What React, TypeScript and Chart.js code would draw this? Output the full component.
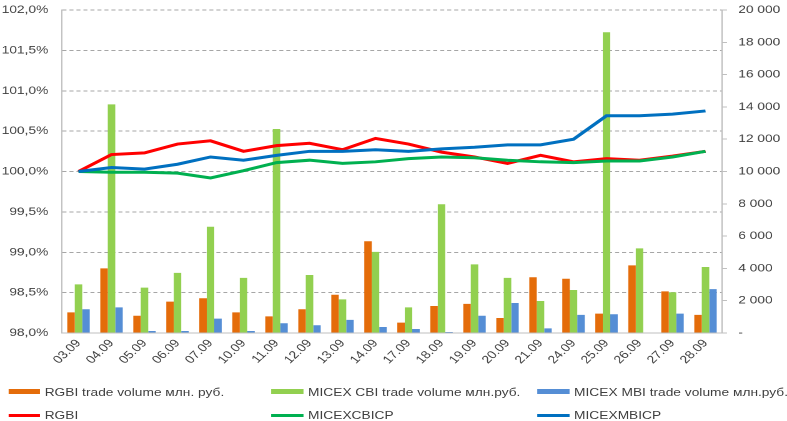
import { useEffect, useRef } from 'react';
import { Chart, registerables } from 'chart.js';

Chart.register(...registerables);

const categories = ['03.09', '04.09', '05.09', '06.09', '07.09', '10.09', '11.09', '12.09', '13.09', '14.09', '17.09', '18.09', '19.09', '20.09', '21.09', '24.09', '25.09', '26.09', '27.09', '28.09'];

const rgbiVolume = [1280, 4000, 1070, 1940, 2150, 1280, 1030, 1470, 2370, 5680, 640, 1670, 1800, 930, 3450, 3360, 1200, 4190, 2580, 1120];
const cbiVolume = [3010, 14160, 2810, 3720, 6580, 3410, 12630, 3590, 2080, 5020, 1590, 7970, 4250, 3410, 1980, 2660, 18620, 5240, 2520, 4090];
const mbiVolume = [1470, 1590, 120, 120, 890, 120, 600, 480, 810, 370, 250, 60, 1070, 1860, 290, 1120, 1160, 0, 1200, 2720];

const rgbi = [100.0, 100.21, 100.23, 100.34, 100.38, 100.25, 100.32, 100.35, 100.27, 100.41, 100.34, 100.24, 100.18, 100.1, 100.2, 100.12, 100.16, 100.14, 100.19, 100.25];
const cbicp = [100.0, 99.99, 99.99, 99.98, 99.92, 100.01, 100.11, 100.14, 100.1, 100.12, 100.16, 100.18, 100.17, 100.14, 100.12, 100.11, 100.13, 100.13, 100.18, 100.25];
const mbicp = [100.0, 100.05, 100.03, 100.09, 100.18, 100.14, 100.2, 100.25, 100.25, 100.27, 100.25, 100.28, 100.3, 100.33, 100.33, 100.4, 100.69, 100.69, 100.71, 100.75];

const seriesNames = ['RGBI trade volume млн. руб.', 'MICEX CBI trade volume млн.руб.', 'MICEX MBI trade volume млн.руб.', 'RGBI', 'MICEXCBICP', 'MICEXMBICP'];
const seriesColors = ['#E46C0A', '#92D050', '#558ED5', '#FF0000', '#00B050', '#0070C0'];

const leftTicks = { min: 98, max: 102, step: 0.5 };
const rightTicks = { min: 0, max: 20000, step: 2000 };

const W = 630;
const H = 380;
const SX = 787 / W;
const FONT = '"Liberation Sans", Arial, sans-serif';
const TEXT = '#404040';
const GRID = '#a6a6a6';
const AXIS = '#bfbfbf';

function fmtPct(v: number) {
  return Number(v).toFixed(1).replace('.', ',') + '%';
}
function fmtNum(v: number) {
  if (v === 0) return '-';
  return String(v).replace(/\B(?=(\d{3})+(?!\d))/g, ' ');
}

export default function App() {
  const ref = useRef<HTMLCanvasElement>(null);
  useEffect(() => {
    const font = { family: FONT, size: 11 };
    const chart = new Chart(ref.current as HTMLCanvasElement, {
      type: 'bar',
      data: {
        labels: categories,
        datasets: [
          { type: 'bar', label: seriesNames[0], data: rgbiVolume, backgroundColor: seriesColors[0], yAxisID: 'y1', order: 10 },
          { type: 'bar', label: seriesNames[1], data: cbiVolume, backgroundColor: seriesColors[1], yAxisID: 'y1', order: 10 },
          { type: 'bar', label: seriesNames[2], data: mbiVolume, backgroundColor: seriesColors[2], yAxisID: 'y1', order: 10 },
          { type: 'line', label: seriesNames[3], data: rgbi, borderColor: seriesColors[3], backgroundColor: seriesColors[3], borderWidth: 3, pointRadius: 0, tension: 0, yAxisID: 'y', order: 3 },
          { type: 'line', label: seriesNames[4], data: cbicp, borderColor: seriesColors[4], backgroundColor: seriesColors[4], borderWidth: 3, pointRadius: 0, tension: 0, yAxisID: 'y', order: 2 },
          { type: 'line', label: seriesNames[5], data: mbicp, borderColor: seriesColors[5], backgroundColor: seriesColors[5], borderWidth: 3, pointRadius: 0, tension: 0, yAxisID: 'y', order: 1 },
        ] as any,
      },
      options: {
        responsive: false,
        animation: false,
        devicePixelRatio: 2,
        layout: { padding: { top: 10, left: 0, right: 0, bottom: 0 }, autoPadding: false } as any,
        plugins: { legend: { display: false }, tooltip: { enabled: false }, title: { display: false } },
        datasets: { bar: { categoryPercentage: 0.68, barPercentage: 1 } } as any,
        scales: {
          x: {
            grid: { display: false, drawTicks: false },
            border: { color: AXIS },
            ticks: { font, color: TEXT, minRotation: 49, maxRotation: 49, autoSkip: false, padding: 4 },
            afterFit: (s: any) => { s.height = H - 333; s.paddingLeft = 0; s.paddingRight = 0; },
          },
          y: {
            position: 'left',
            min: leftTicks.min,
            max: leftTicks.max,
            ticks: { stepSize: leftTicks.step, callback: (v: any) => fmtPct(v), padding: 11, font, color: TEXT },
            grid: { color: GRID, drawTicks: false },
            border: { color: AXIS, dash: [3.2, 2.4] },
            afterFit: (s: any) => { s.width = 62 / SX; s.paddingTop = 0; s.paddingBottom = 0; },
          },
          y1: {
            position: 'right',
            min: rightTicks.min,
            max: rightTicks.max,
            ticks: { stepSize: rightTicks.step, callback: (v: any) => fmtNum(v), padding: 9, font, color: TEXT },
            grid: { drawOnChartArea: false, drawTicks: true, tickLength: 4, color: AXIS },
            border: { color: AXIS },
            afterFit: (s: any) => { s.width = W - 722 / SX; s.paddingTop = 0; s.paddingBottom = 0; },
          },
        } as any,
      },
    });
    return () => chart.destroy();
  }, []);

  const colX = [6.6, 217.4, 430.4];
  const rowCenter = [391.5, 415];

  return (
    <div style={{ position: 'fixed', left: 0, top: 0, width: 787, height: 421, overflow: 'hidden', background: '#fff' }}>
      <div style={{ position: 'absolute', left: 0, top: 0, width: W, height: 421, transform: `scaleX(${SX})`, transformOrigin: '0 0' }}>
        <canvas ref={ref} width={W} height={H} style={{ display: 'block' }} />
        {seriesNames.map((name, i) => {
          const col = i % 3;
          const row = Math.floor(i / 3);
          const isBar = row === 0;
          return (
            <div key={name} style={{ position: 'absolute', left: colX[col], top: rowCenter[row] - 7, height: 14, display: 'flex', alignItems: 'center', whiteSpace: 'nowrap', fontFamily: FONT, fontSize: 11, color: TEXT }}>
              <div style={{ width: 25.6, height: isBar ? 5 : 3, background: seriesColors[i], marginRight: 3.6 }} />
              <span>{name}</span>
            </div>
          );
        })}
      </div>
    </div>
  );
}
